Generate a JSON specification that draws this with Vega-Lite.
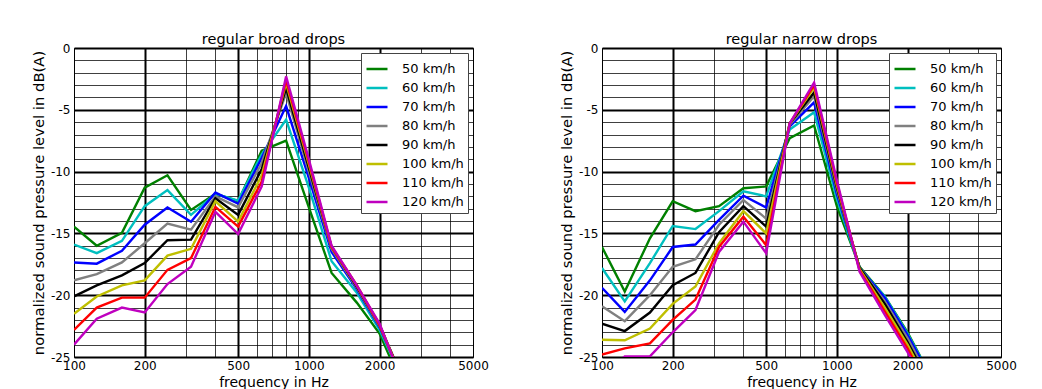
{
"$schema": "https://vega.github.io/schema/vega-lite/v6.json",
"padding": {"left": 30, "top": 31, "right": 0, "bottom": 0},
"config": {
  "font": "DejaVu Sans",
  "view": {"stroke": "black", "strokeWidth": 1},
  "title": {"fontSize": 14.5, "fontWeight": "normal", "color": "black", "offset": -5, "anchor": "middle", "frame": "group"},
  "concat": {"spacing": 69}
},
"data": {"values": [
{"panel":"broad","speed":50,"freq":100,"level":-14.45},{"panel":"broad","speed":50,"freq":125,"level":-16.0},{"panel":"broad","speed":50,"freq":160,"level":-14.95},{"panel":"broad","speed":50,"freq":200,"level":-11.3},{"panel":"broad","speed":50,"freq":250,"level":-10.3},{"panel":"broad","speed":50,"freq":315,"level":-13.1},{"panel":"broad","speed":50,"freq":400,"level":-11.8},{"panel":"broad","speed":50,"freq":500,"level":-12.4},{"panel":"broad","speed":50,"freq":630,"level":-8.3},{"panel":"broad","speed":50,"freq":800,"level":-7.5},{"panel":"broad","speed":50,"freq":1000,"level":-12.9},{"panel":"broad","speed":50,"freq":1250,"level":-18.2},{"panel":"broad","speed":50,"freq":1600,"level":-20.6},{"panel":"broad","speed":50,"freq":2000,"level":-23.1},{"panel":"broad","speed":50,"freq":2500,"level":-27.3},
{"panel":"broad","speed":60,"freq":100,"level":-15.9},{"panel":"broad","speed":60,"freq":125,"level":-16.6},{"panel":"broad","speed":60,"freq":160,"level":-15.6},{"panel":"broad","speed":60,"freq":200,"level":-12.8},{"panel":"broad","speed":60,"freq":250,"level":-11.5},{"panel":"broad","speed":60,"freq":315,"level":-13.5},{"panel":"broad","speed":60,"freq":400,"level":-11.8},{"panel":"broad","speed":60,"freq":500,"level":-12.35},{"panel":"broad","speed":60,"freq":630,"level":-8.6},{"panel":"broad","speed":60,"freq":800,"level":-5.8},{"panel":"broad","speed":60,"freq":1000,"level":-11.3},{"panel":"broad","speed":60,"freq":1250,"level":-17.25},{"panel":"broad","speed":60,"freq":1600,"level":-19.8},{"panel":"broad","speed":60,"freq":2000,"level":-22.8},{"panel":"broad","speed":60,"freq":2500,"level":-26.8},
{"panel":"broad","speed":70,"freq":100,"level":-17.35},{"panel":"broad","speed":70,"freq":125,"level":-17.45},{"panel":"broad","speed":70,"freq":160,"level":-16.4},{"panel":"broad","speed":70,"freq":200,"level":-14.3},{"panel":"broad","speed":70,"freq":250,"level":-12.9},{"panel":"broad","speed":70,"freq":315,"level":-14.05},{"panel":"broad","speed":70,"freq":400,"level":-11.7},{"panel":"broad","speed":70,"freq":500,"level":-12.6},{"panel":"broad","speed":70,"freq":630,"level":-8.9},{"panel":"broad","speed":70,"freq":800,"level":-4.7},{"panel":"broad","speed":70,"freq":1000,"level":-10.5},{"panel":"broad","speed":70,"freq":1250,"level":-16.5},{"panel":"broad","speed":70,"freq":1600,"level":-19.5},{"panel":"broad","speed":70,"freq":2000,"level":-22.6},{"panel":"broad","speed":70,"freq":2500,"level":-26.6},
{"panel":"broad","speed":80,"freq":100,"level":-18.8},{"panel":"broad","speed":80,"freq":125,"level":-18.3},{"panel":"broad","speed":80,"freq":160,"level":-17.35},{"panel":"broad","speed":80,"freq":200,"level":-15.8},{"panel":"broad","speed":80,"freq":250,"level":-14.2},{"panel":"broad","speed":80,"freq":315,"level":-14.7},{"panel":"broad","speed":80,"freq":400,"level":-12.0},{"panel":"broad","speed":80,"freq":500,"level":-12.9},{"panel":"broad","speed":80,"freq":630,"level":-9.3},{"panel":"broad","speed":80,"freq":800,"level":-3.65},{"panel":"broad","speed":80,"freq":1000,"level":-10.0},{"panel":"broad","speed":80,"freq":1250,"level":-16.25},{"panel":"broad","speed":80,"freq":1600,"level":-19.4},{"panel":"broad","speed":80,"freq":2000,"level":-22.5},{"panel":"broad","speed":80,"freq":2500,"level":-26.6},
{"panel":"broad","speed":90,"freq":100,"level":-20.1},{"panel":"broad","speed":90,"freq":125,"level":-19.2},{"panel":"broad","speed":90,"freq":160,"level":-18.4},{"panel":"broad","speed":90,"freq":200,"level":-17.4},{"panel":"broad","speed":90,"freq":250,"level":-15.55},{"panel":"broad","speed":90,"freq":315,"level":-15.5},{"panel":"broad","speed":90,"freq":400,"level":-12.15},{"panel":"broad","speed":90,"freq":500,"level":-13.5},{"panel":"broad","speed":90,"freq":630,"level":-9.8},{"panel":"broad","speed":90,"freq":800,"level":-3.25},{"panel":"broad","speed":90,"freq":1000,"level":-9.7},{"panel":"broad","speed":90,"freq":1250,"level":-16.1},{"panel":"broad","speed":90,"freq":1600,"level":-19.3},{"panel":"broad","speed":90,"freq":2000,"level":-22.4},{"panel":"broad","speed":90,"freq":2500,"level":-26.7},
{"panel":"broad","speed":100,"freq":100,"level":-21.5},{"panel":"broad","speed":100,"freq":125,"level":-20.1},{"panel":"broad","speed":100,"freq":160,"level":-19.2},{"panel":"broad","speed":100,"freq":200,"level":-18.8},{"panel":"broad","speed":100,"freq":250,"level":-16.8},{"panel":"broad","speed":100,"freq":315,"level":-16.25},{"panel":"broad","speed":100,"freq":400,"level":-12.4},{"panel":"broad","speed":100,"freq":500,"level":-14.05},{"panel":"broad","speed":100,"freq":630,"level":-10.3},{"panel":"broad","speed":100,"freq":800,"level":-2.85},{"panel":"broad","speed":100,"freq":1000,"level":-9.4},{"panel":"broad","speed":100,"freq":1250,"level":-16.1},{"panel":"broad","speed":100,"freq":1600,"level":-19.2},{"panel":"broad","speed":100,"freq":2000,"level":-22.4},{"panel":"broad","speed":100,"freq":2500,"level":-26.8},
{"panel":"broad","speed":110,"freq":100,"level":-22.8},{"panel":"broad","speed":110,"freq":125,"level":-21.0},{"panel":"broad","speed":110,"freq":160,"level":-20.2},{"panel":"broad","speed":110,"freq":200,"level":-20.2},{"panel":"broad","speed":110,"freq":250,"level":-17.95},{"panel":"broad","speed":110,"freq":315,"level":-17.0},{"panel":"broad","speed":110,"freq":400,"level":-12.85},{"panel":"broad","speed":110,"freq":500,"level":-14.45},{"panel":"broad","speed":110,"freq":630,"level":-10.8},{"panel":"broad","speed":110,"freq":800,"level":-2.6},{"panel":"broad","speed":110,"freq":1000,"level":-9.2},{"panel":"broad","speed":110,"freq":1250,"level":-16.1},{"panel":"broad","speed":110,"freq":1600,"level":-19.2},{"panel":"broad","speed":110,"freq":2000,"level":-22.4},{"panel":"broad","speed":110,"freq":2500,"level":-26.9},
{"panel":"broad","speed":120,"freq":100,"level":-24.0},{"panel":"broad","speed":120,"freq":125,"level":-21.9},{"panel":"broad","speed":120,"freq":160,"level":-21.0},{"panel":"broad","speed":120,"freq":200,"level":-21.4},{"panel":"broad","speed":120,"freq":250,"level":-19.1},{"panel":"broad","speed":120,"freq":315,"level":-17.7},{"panel":"broad","speed":120,"freq":400,"level":-13.25},{"panel":"broad","speed":120,"freq":500,"level":-15.05},{"panel":"broad","speed":120,"freq":630,"level":-11.2},{"panel":"broad","speed":120,"freq":800,"level":-2.3},{"panel":"broad","speed":120,"freq":1000,"level":-9.0},{"panel":"broad","speed":120,"freq":1250,"level":-16.0},{"panel":"broad","speed":120,"freq":1600,"level":-19.2},{"panel":"broad","speed":120,"freq":2000,"level":-22.3},{"panel":"broad","speed":120,"freq":2500,"level":-27.0},
{"panel":"narrow","speed":50,"freq":100,"level":-16.1},{"panel":"narrow","speed":50,"freq":125,"level":-19.7},{"panel":"narrow","speed":50,"freq":160,"level":-15.4},{"panel":"narrow","speed":50,"freq":200,"level":-12.4},{"panel":"narrow","speed":50,"freq":250,"level":-13.2},{"panel":"narrow","speed":50,"freq":315,"level":-12.8},{"panel":"narrow","speed":50,"freq":400,"level":-11.35},{"panel":"narrow","speed":50,"freq":500,"level":-11.2},{"panel":"narrow","speed":50,"freq":630,"level":-7.3},{"panel":"narrow","speed":50,"freq":800,"level":-6.27},{"panel":"narrow","speed":50,"freq":1000,"level":-12.8},{"panel":"narrow","speed":50,"freq":1250,"level":-17.7},{"panel":"narrow","speed":50,"freq":1600,"level":-20.1},{"panel":"narrow","speed":50,"freq":2000,"level":-23.0},{"panel":"narrow","speed":50,"freq":2500,"level":-26.5},
{"panel":"narrow","speed":60,"freq":100,"level":-17.8},{"panel":"narrow","speed":60,"freq":125,"level":-20.5},{"panel":"narrow","speed":60,"freq":160,"level":-17.4},{"panel":"narrow","speed":60,"freq":200,"level":-14.4},{"panel":"narrow","speed":60,"freq":250,"level":-14.65},{"panel":"narrow","speed":60,"freq":315,"level":-13.2},{"panel":"narrow","speed":60,"freq":400,"level":-11.6},{"panel":"narrow","speed":60,"freq":500,"level":-12.0},{"panel":"narrow","speed":60,"freq":630,"level":-6.6},{"panel":"narrow","speed":60,"freq":800,"level":-5.2},{"panel":"narrow","speed":60,"freq":1000,"level":-12.2},{"panel":"narrow","speed":60,"freq":1250,"level":-17.8},{"panel":"narrow","speed":60,"freq":1600,"level":-20.1},{"panel":"narrow","speed":60,"freq":2000,"level":-23.1},{"panel":"narrow","speed":60,"freq":2500,"level":-26.5},
{"panel":"narrow","speed":70,"freq":100,"level":-19.4},{"panel":"narrow","speed":70,"freq":125,"level":-21.35},{"panel":"narrow","speed":70,"freq":160,"level":-18.8},{"panel":"narrow","speed":70,"freq":200,"level":-16.1},{"panel":"narrow","speed":70,"freq":250,"level":-15.9},{"panel":"narrow","speed":70,"freq":315,"level":-13.9},{"panel":"narrow","speed":70,"freq":400,"level":-11.95},{"panel":"narrow","speed":70,"freq":500,"level":-12.9},{"panel":"narrow","speed":70,"freq":630,"level":-6.35},{"panel":"narrow","speed":70,"freq":800,"level":-4.4},{"panel":"narrow","speed":70,"freq":1000,"level":-11.8},{"panel":"narrow","speed":70,"freq":1250,"level":-17.8},{"panel":"narrow","speed":70,"freq":1600,"level":-20.2},{"panel":"narrow","speed":70,"freq":2000,"level":-23.2},{"panel":"narrow","speed":70,"freq":2500,"level":-26.6},
{"panel":"narrow","speed":80,"freq":100,"level":-20.9},{"panel":"narrow","speed":80,"freq":125,"level":-22.1},{"panel":"narrow","speed":80,"freq":160,"level":-20.0},{"panel":"narrow","speed":80,"freq":200,"level":-17.7},{"panel":"narrow","speed":80,"freq":250,"level":-17.1},{"panel":"narrow","speed":80,"freq":315,"level":-14.3},{"panel":"narrow","speed":80,"freq":400,"level":-12.3},{"panel":"narrow","speed":80,"freq":500,"level":-13.8},{"panel":"narrow","speed":80,"freq":630,"level":-6.2},{"panel":"narrow","speed":80,"freq":800,"level":-3.9},{"panel":"narrow","speed":80,"freq":1000,"level":-11.5},{"panel":"narrow","speed":80,"freq":1250,"level":-17.8},{"panel":"narrow","speed":80,"freq":1600,"level":-20.5},{"panel":"narrow","speed":80,"freq":2000,"level":-23.5},{"panel":"narrow","speed":80,"freq":2500,"level":-26.9},
{"panel":"narrow","speed":90,"freq":100,"level":-22.3},{"panel":"narrow","speed":90,"freq":125,"level":-22.9},{"panel":"narrow","speed":90,"freq":160,"level":-21.4},{"panel":"narrow","speed":90,"freq":200,"level":-19.2},{"panel":"narrow","speed":90,"freq":250,"level":-18.2},{"panel":"narrow","speed":90,"freq":315,"level":-14.9},{"panel":"narrow","speed":90,"freq":400,"level":-12.8},{"panel":"narrow","speed":90,"freq":500,"level":-14.45},{"panel":"narrow","speed":90,"freq":630,"level":-6.1},{"panel":"narrow","speed":90,"freq":800,"level":-3.6},{"panel":"narrow","speed":90,"freq":1000,"level":-11.3},{"panel":"narrow","speed":90,"freq":1250,"level":-17.8},{"panel":"narrow","speed":90,"freq":1600,"level":-20.7},{"panel":"narrow","speed":90,"freq":2000,"level":-23.8},{"panel":"narrow","speed":90,"freq":2500,"level":-27.2},
{"panel":"narrow","speed":100,"freq":100,"level":-23.6},{"panel":"narrow","speed":100,"freq":125,"level":-23.65},{"panel":"narrow","speed":100,"freq":160,"level":-22.7},{"panel":"narrow","speed":100,"freq":200,"level":-20.7},{"panel":"narrow","speed":100,"freq":250,"level":-19.3},{"panel":"narrow","speed":100,"freq":315,"level":-15.8},{"panel":"narrow","speed":100,"freq":400,"level":-13.2},{"panel":"narrow","speed":100,"freq":500,"level":-15.0},{"panel":"narrow","speed":100,"freq":630,"level":-6.1},{"panel":"narrow","speed":100,"freq":800,"level":-3.2},{"panel":"narrow","speed":100,"freq":1000,"level":-11.1},{"panel":"narrow","speed":100,"freq":1250,"level":-17.9},{"panel":"narrow","speed":100,"freq":1600,"level":-21.0},{"panel":"narrow","speed":100,"freq":2000,"level":-24.0},{"panel":"narrow","speed":100,"freq":2500,"level":-27.5},
{"panel":"narrow","speed":110,"freq":100,"level":-24.8},{"panel":"narrow","speed":110,"freq":125,"level":-24.3},{"panel":"narrow","speed":110,"freq":160,"level":-23.9},{"panel":"narrow","speed":110,"freq":200,"level":-22.0},{"panel":"narrow","speed":110,"freq":250,"level":-20.35},{"panel":"narrow","speed":110,"freq":315,"level":-16.1},{"panel":"narrow","speed":110,"freq":400,"level":-13.65},{"panel":"narrow","speed":110,"freq":500,"level":-15.95},{"panel":"narrow","speed":110,"freq":630,"level":-6.1},{"panel":"narrow","speed":110,"freq":800,"level":-3.0},{"panel":"narrow","speed":110,"freq":1000,"level":-10.9},{"panel":"narrow","speed":110,"freq":1250,"level":-18.0},{"panel":"narrow","speed":110,"freq":1600,"level":-21.3},{"panel":"narrow","speed":110,"freq":2000,"level":-24.3},{"panel":"narrow","speed":110,"freq":2500,"level":-27.8},
{"panel":"narrow","speed":120,"freq":100,"level":-26.5},{"panel":"narrow","speed":120,"freq":125,"level":-24.95},{"panel":"narrow","speed":120,"freq":160,"level":-24.95},{"panel":"narrow","speed":120,"freq":200,"level":-23.0},{"panel":"narrow","speed":120,"freq":250,"level":-21.2},{"panel":"narrow","speed":120,"freq":315,"level":-16.5},{"panel":"narrow","speed":120,"freq":400,"level":-14.05},{"panel":"narrow","speed":120,"freq":500,"level":-16.6},{"panel":"narrow","speed":120,"freq":630,"level":-6.1},{"panel":"narrow","speed":120,"freq":800,"level":-2.8},{"panel":"narrow","speed":120,"freq":1000,"level":-10.7},{"panel":"narrow","speed":120,"freq":1250,"level":-18.1},{"panel":"narrow","speed":120,"freq":1600,"level":-21.6},{"panel":"narrow","speed":120,"freq":2000,"level":-24.6},{"panel":"narrow","speed":120,"freq":2500,"level":-28.0}
]},
"hconcat": [
 {
  "title": "regular broad drops",
  "width": 399, "height": 309,
  "transform": [{"filter": "datum.panel == 'broad'"}],
  "mark": {"type": "line", "clip": true, "strokeWidth": 2.4},
  "encoding": {
   "x": {"field": "freq", "type": "quantitative", "title": "frequency in Hz",
     "scale": {"type": "log", "domain": [100, 5000], "nice": false},
     "axis": {"values": [100,200,300,400,500,600,700,800,900,1000,2000,3000,4000,5000],
       "labelExpr": "indexof([100,200,500,1000,2000,5000], datum.value) >= 0 ? '' + datum.value : ''",
       "grid": true, "gridColor": "black",
       "gridWidth": {"condition": {"test": "indexof([200,500,1000,2000], datum.value) >= 0", "value": 2}, "value": 1},
       "gridOpacity": {"condition": {"test": "indexof([200,500,1000,2000], datum.value) >= 0", "value": 1}, "value": 0.75},
       "ticks": false, "domain": false, "labelFlush": false, "labelOverlap": false,
       "labelFontSize": 12, "labelColor": "black", "labelPadding": 3,
       "titleFontSize": 14, "titleFontWeight": "normal", "titleColor": "black", "titlePadding": 4}},
   "y": {"field": "level", "type": "quantitative", "title": "normalized sound pressure level in dB(A)",
     "scale": {"domain": [-25, 0], "nice": false, "zero": false},
     "axis": {"values": [-25,-24,-23,-22,-21,-20,-19,-18,-17,-16,-15,-14,-13,-12,-11,-10,-9,-8,-7,-6,-5,-4,-3,-2,-1,0],
       "labelExpr": "datum.value % 5 == 0 ? '' + datum.value : ''",
       "grid": true, "gridColor": "black",
       "gridWidth": {"condition": {"test": "datum.value % 5 == 0", "value": 2}, "value": 1},
       "gridOpacity": {"condition": {"test": "datum.value % 5 == 0", "value": 1}, "value": 0.75},
       "ticks": false, "domain": false, "labelFlush": false, "labelOverlap": false,
       "labelFontSize": 12, "labelColor": "black", "labelPadding": 4,
       "titleFontSize": 14.8, "titleFontWeight": "normal", "titleColor": "black", "titlePadding": 4}},
   "color": {"field": "speed", "type": "nominal",
     "scale": {"domain": [50,60,70,80,90,100,110,120], "range": ["#008000","#00BFBF","#0000FF","#808080","#000000","#BFBF00","#FF0000","#BF00BF"]},
     "legend": {"orient": "top-right", "offset": 5, "title": null,
       "symbolType": "stroke", "symbolStrokeWidth": 2.5, "symbolSize": 441,
       "labelFontSize": 13, "labelColor": "black", "labelOffset": 13,
       "rowPadding": 0, "padding": 4, "strokeColor": "#444", "fillColor": "white",
       "labelExpr": "(datum.value < 100 ? '\u2007' : '') + datum.value + ' km/h'"}}
  }
 },
 {
  "title": "regular narrow drops",
  "width": 399, "height": 309,
  "transform": [{"filter": "datum.panel == 'narrow'"}],
  "mark": {"type": "line", "clip": true, "strokeWidth": 2.4},
  "encoding": {
   "x": {"field": "freq", "type": "quantitative", "title": "frequency in Hz",
     "scale": {"type": "log", "domain": [100, 5000], "nice": false},
     "axis": {"values": [100,200,300,400,500,600,700,800,900,1000,2000,3000,4000,5000],
       "labelExpr": "indexof([100,200,500,1000,2000,5000], datum.value) >= 0 ? '' + datum.value : ''",
       "grid": true, "gridColor": "black",
       "gridWidth": {"condition": {"test": "indexof([200,500,1000,2000], datum.value) >= 0", "value": 2}, "value": 1},
       "gridOpacity": {"condition": {"test": "indexof([200,500,1000,2000], datum.value) >= 0", "value": 1}, "value": 0.75},
       "ticks": false, "domain": false, "labelFlush": false, "labelOverlap": false,
       "labelFontSize": 12, "labelColor": "black", "labelPadding": 3,
       "titleFontSize": 14, "titleFontWeight": "normal", "titleColor": "black", "titlePadding": 4}},
   "y": {"field": "level", "type": "quantitative", "title": "normalized sound pressure level in dB(A)",
     "scale": {"domain": [-25, 0], "nice": false, "zero": false},
     "axis": {"values": [-25,-24,-23,-22,-21,-20,-19,-18,-17,-16,-15,-14,-13,-12,-11,-10,-9,-8,-7,-6,-5,-4,-3,-2,-1,0],
       "labelExpr": "datum.value % 5 == 0 ? '' + datum.value : ''",
       "grid": true, "gridColor": "black",
       "gridWidth": {"condition": {"test": "datum.value % 5 == 0", "value": 2}, "value": 1},
       "gridOpacity": {"condition": {"test": "datum.value % 5 == 0", "value": 1}, "value": 0.75},
       "ticks": false, "domain": false, "labelFlush": false, "labelOverlap": false,
       "labelFontSize": 12, "labelColor": "black", "labelPadding": 4,
       "titleFontSize": 14.8, "titleFontWeight": "normal", "titleColor": "black", "titlePadding": 4}},
   "color": {"field": "speed", "type": "nominal",
     "scale": {"domain": [50,60,70,80,90,100,110,120], "range": ["#008000","#00BFBF","#0000FF","#808080","#000000","#BFBF00","#FF0000","#BF00BF"]},
     "legend": {"orient": "top-right", "offset": 5, "title": null,
       "symbolType": "stroke", "symbolStrokeWidth": 2.5, "symbolSize": 441,
       "labelFontSize": 13, "labelColor": "black", "labelOffset": 13,
       "rowPadding": 0, "padding": 4, "strokeColor": "#444", "fillColor": "white",
       "labelExpr": "(datum.value < 100 ? '\u2007' : '') + datum.value + ' km/h'"}}
  }
 }
],
"resolve": {"legend": {"color": "independent"}}
}
